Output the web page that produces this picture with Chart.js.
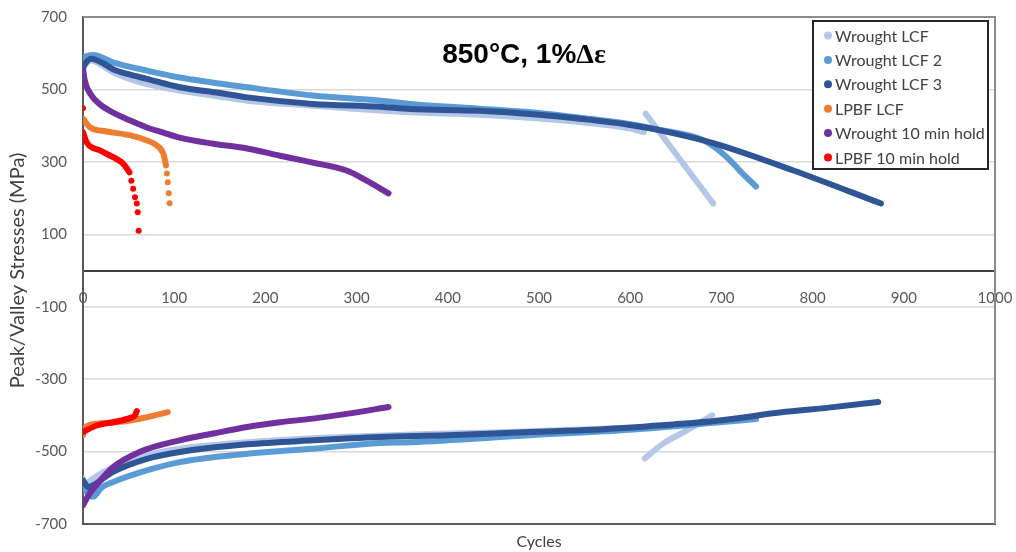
<!DOCTYPE html>
<html><head><meta charset="utf-8">
<script src="https://cdn.jsdelivr.net/npm/chart.js@4/dist/chart.umd.min.js"></script>
<style>html,body{margin:0;padding:0;background:#fff}</style>
</head><body>
<canvas id="c" width="1016" height="552"></canvas>
<script>
// ---------- DATA ----------
const chartTitleMain = "850°C, 1%";
const chartTitleGreek = "Δε";
const xAxisTitle = "Cycles";
const yAxisTitle = "Peak/Valley Stresses (MPa)";
const xTickValues = [0,100,200,300,400,500,600,700,800,900,1000];
const yTickValues = [-700,-500,-300,-100,100,300,500,700];

const seriesNames = ["Wrought LCF","Wrought LCF 2","Wrought LCF 3","LPBF LCF","Wrought 10 min hold","LPBF 10 min hold"];
const seriesColors = ["#b4c7e7","#5b9bd5","#2f5597","#ed7d31","#7030a0","#ff0000"];

// Wrought LCF
const wLcfPeakCyc   = [0,2,9,20,33,50,70,106,150,180,252,300,359,435,500,545,600,615];
const wLcfPeakMPa   = [555,566,580,568,547,530,515,497,480,469,455,446,437,430,420,410,392,382];
const wLcfPeak2Cyc  = [617,640,665,691];
const wLcfPeak2MPa  = [433,356,272,185];
const wLcfValCyc    = [0,3,8,20,33,70,106,180,252,359,450,540,615];
const wLcfValMPa    = [-575,-590,-580,-560,-545,-510,-492,-474,-463,-453,-447,-440,-432];
const wLcfVal2Cyc   = [616,636,658,690];
const wLcfVal2MPa   = [-519,-478,-447,-400];
// Wrought LCF 2
const wLcf2PeakCyc  = [0,2,11,33,70,106,180,252,326,359,435,500,545,600,633,680,706,720,738];
const wLcf2PeakMPa  = [575,589,595,575,552,533,506,483,469,460,447,435,422,404,388,360,313,276,232];
const wLcf2ValCyc   = [0,5,11,20,33,70,106,180,252,326,359,490,600,695,738];
const wLcf2ValMPa   = [-598,-615,-625,-600,-584,-552,-529,-506,-492,-476,-474,-455,-440,-420,-410];
// Wrought LCF 3
const wLcf3PeakCyc  = [0,2,9,20,33,50,70,106,150,180,252,326,359,435,500,545,600,633,692,779,875];
const wLcf3PeakMPa  = [560,570,585,575,556,542,529,506,490,478,460,452,446,441,430,419,402,387,351,276,185];
const wLcf3ValCyc   = [0,6,11,33,70,106,180,252,326,400,490,560,647,695,768,820,872];
const wLcf3ValMPa   = [-580,-598,-593,-556,-520,-501,-480,-469,-460,-455,-446,-440,-425,-415,-391,-378,-363];
// LPBF LCF
const lLcfPeakCyc   = [0,8,26,52,70,81,88,91];
const lLcfPeakMPa   = [419,395,384,373,359,345,323,290];
const lLcfTailCyc   = [92,93,94,95];
const lLcfTailMPa   = [268,244,213,186];
const lLcfValCyc    = [0,1,15,52,70,93];
const lLcfValMPa    = [-455,-437,-423,-414,-405,-391];
// Wrought 10 min hold
const wHoldPeakCyc  = [0,2,8,19,33,52,70,88,106,143,180,216,252,289,311,335];
const wHoldPeakMPa  = [557,524,488,458,436,414,395,381,367,350,337,317,298,276,248,213];
const wHoldValCyc   = [0,6,19,33,62,106,143,180,216,252,289,335];
const wHoldValMPa   = [-648,-621,-580,-543,-501,-469,-450,-432,-419,-409,-396,-377];
// LPBF 10 min hold
const lHoldPeakCyc  = [0,4,19,33,44,51];
const lHoldPeakMPa  = [382,354,331,313,295,271];
const lHoldDotCyc   = [0,53,55,57,59,60,61];
const lHoldDotMPa   = [448,248,226,202,185,161,110];
const lHoldValCyc   = [0,15,33,52,57,59];
const lHoldValMPa   = [-446,-428,-419,-407,-400,-388];

// ---------- BUILD ----------
function pts(xs, ys){ return xs.map((x,i)=>({x:x, y:ys[i]})); }
const parts = [
  [0, wLcfPeakCyc, wLcfPeakMPa, true],[0, wLcfPeak2Cyc, wLcfPeak2MPa, true],
  [0, wLcfValCyc, wLcfValMPa, true],[0, wLcfVal2Cyc, wLcfVal2MPa, true],
  [1, wLcf2PeakCyc, wLcf2PeakMPa, true],[1, wLcf2ValCyc, wLcf2ValMPa, true],
  [2, wLcf3PeakCyc, wLcf3PeakMPa, true],[2, wLcf3ValCyc, wLcf3ValMPa, true],
  [3, lLcfPeakCyc, lLcfPeakMPa, true],[3, lLcfTailCyc, lLcfTailMPa, false],[3, lLcfValCyc, lLcfValMPa, true],
  [4, wHoldPeakCyc, wHoldPeakMPa, true],[4, wHoldValCyc, wHoldValMPa, true],
  [5, lHoldPeakCyc, lHoldPeakMPa, true],[5, lHoldDotCyc, lHoldDotMPa, false],[5, lHoldValCyc, lHoldValMPa, true]
];
const datasets = parts.map(p => ({
  label: seriesNames[p[0]],
  data: pts(p[1], p[2]),
  borderColor: seriesColors[p[0]],
  backgroundColor: seriesColors[p[0]],
  borderWidth: 6,
  borderCapStyle: 'round',
  borderJoinStyle: 'round',
  showLine: p[3],
  pointRadius: p[3] ? 0 : 3,
  pointBorderWidth: 0,
  cubicInterpolationMode: 'monotone',
  order: 100 - p[0],
  xAxisID: 'x', yAxisID: 'y'
}));

const tickFont = {family: 'Lato', size: 15};
const decorPlugin = {
  id: 'decor',
  beforeDatasetsDraw(chart){
    const {ctx, chartArea:a} = chart;
    ctx.save();
    ctx.strokeStyle = '#8c8c8c'; ctx.lineWidth = 2;
    ctx.beginPath();
    ctx.moveTo(a.left, a.top); ctx.lineTo(a.right, a.top); ctx.lineTo(a.right, a.bottom);
    ctx.stroke();
    ctx.restore();
  },
  afterDraw(chart){
    const {ctx} = chart;
    ctx.save();
    // title
    ctx.fillStyle = '#000';
    ctx.textBaseline = 'alphabetic';
    const f1 = 'bold 28px "Liberation Sans"', f2 = 'bold 28px "Liberation Serif"';
    ctx.font = f1; const w1 = ctx.measureText(chartTitleMain).width;
    ctx.font = f2; const w2 = ctx.measureText(chartTitleGreek).width;
    let x0 = 524 - (w1 + w2)/2;
    ctx.textAlign = 'left';
    ctx.font = f1; ctx.fillText(chartTitleMain, x0, 63);
    ctx.font = f2; ctx.fillText(chartTitleGreek, x0 + w1, 63);
    // legend
    const lx = 813, ly = 21, lw = 175, lh = 148;
    ctx.fillStyle = '#fff'; ctx.fillRect(lx, ly, lw, lh);
    ctx.strokeStyle = '#262626'; ctx.lineWidth = 2; ctx.strokeRect(lx, ly, lw, lh);
    ctx.font = '16px Lato'; ctx.textBaseline = 'middle';
    seriesNames.forEach((n, i) => {
      const y = 35.5 + i*24.4;
      ctx.fillStyle = seriesColors[i];
      ctx.beginPath(); ctx.arc(828, y, 4, 0, Math.PI*2); ctx.fill();
      ctx.fillStyle = '#404040';
      ctx.fillText(n, 835, y + 1);
    });
    ctx.restore();
  }
};

function noPad(s){ s.paddingLeft = 0; s.paddingRight = 0; s.paddingTop = 0; s.paddingBottom = 0; }

new Chart(document.getElementById('c'), {
  type: 'line',
  data: { datasets },
  options: {
    responsive: false, animation: false, devicePixelRatio: 1,
    layout: { padding: {left: 0, top: 17, right: 21, bottom: 0} },
    plugins: { legend: {display: false}, tooltip: {enabled: false}, title: {display: false} },
    scales: {
      x: {
        type: 'linear', position: {y: 0}, min: 0, max: 1000,
        afterFit: noPad,
        afterBuildTicks: s => { s.ticks = xTickValues.map(v => ({value: v})); },
        ticks: { font: tickFont, color: '#595959', padding: 19, maxRotation: 0, autoSkip: false, callback: v => String(v) },
        grid: { display: false, drawTicks: false },
        border: { display: true, color: '#404040', width: 2 }
      },
      x2: {
        type: 'linear', position: 'bottom', min: 0, max: 1000,
        afterFit: s => { noPad(s); s.height = 28; },
        ticks: { display: false },
        grid: { display: false, drawTicks: false },
        border: { display: true, color: '#595959', width: 2 },
        title: { display: true, text: xAxisTitle, font: {family: 'Lato', size: 16}, color: '#404040', padding: {top: 0, bottom: 1} }
      },
      y: {
        type: 'linear', position: 'left', min: -700, max: 700,
        afterFit: s => { noPad(s); s.width = 83; },
        afterBuildTicks: s => { s.ticks = yTickValues.map(v => ({value: v})); },
        ticks: { font: tickFont, color: '#595959', padding: 16, callback: v => String(v) },
        grid: { color: '#d9d9d9', lineWidth: 1.5, drawTicks: false },
        border: { display: true, color: '#595959', width: 2 },
        title: { display: true, text: yAxisTitle, font: {family: 'Lato', size: 20}, color: '#404040', padding: {top: 6, bottom: 0} }
      }
    }
  },
  plugins: [decorPlugin]
});
</script>
</body></html>
